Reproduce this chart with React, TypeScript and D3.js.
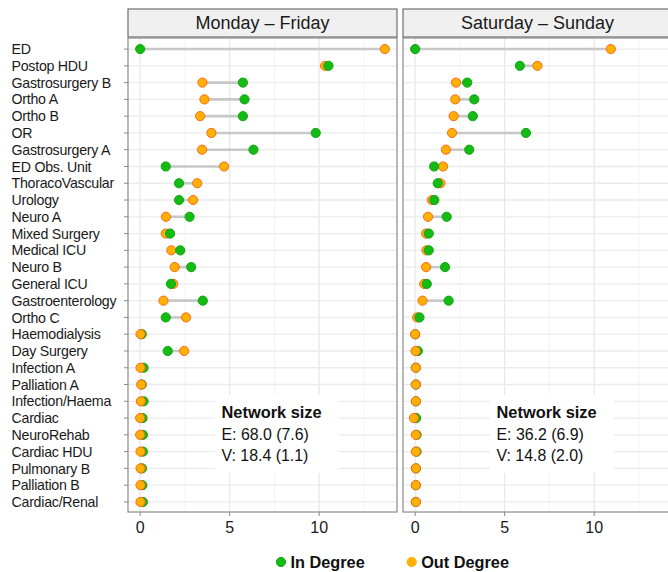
import React, { useEffect, useRef } from "react";
import * as d3 from "d3";

const wards = [
  "ED", "Postop HDU", "Gastrosurgery B", "Ortho A", "Ortho B", "OR",
  "Gastrosurgery A", "ED Obs. Unit", "ThoracoVascular", "Urology", "Neuro A",
  "Mixed Surgery", "Medical ICU", "Neuro B", "General ICU", "Gastroenterology",
  "Ortho C", "Haemodialysis", "Day Surgery", "Infection A", "Palliation A",
  "Infection/Haema", "Cardiac", "NeuroRehab", "Cardiac HDU", "Pulmonary B",
  "Palliation B", "Cardiac/Renal",
];

const facets = ["Monday – Friday", "Saturday – Sunday"];

// weekday
const inWeek = [0, 10.52, 5.74, 5.83, 5.74, 9.81, 6.33, 1.43, 2.17, 2.17, 2.76, 1.67, 2.24, 2.85, 1.72, 3.5, 1.43, 0.09, 1.54, 0.19, 0.09, 0.19, 0.13, 0.15, 0.15, 0.1, 0.12, 0.15];
const outWeek = [13.67, 10.33, 3.48, 3.59, 3.35, 3.98, 3.46, 4.69, 3.19, 2.96, 1.44, 1.43, 1.74, 1.93, 1.85, 1.3, 2.56, 0.02, 2.46, 0.02, 0.06, 0.04, 0, 0, 0.02, 0.02, 0.02, 0.02];
// weekend
const inWkend = [0, 5.85, 2.91, 3.3, 3.22, 6.19, 3.02, 1.06, 1.26, 1.07, 1.76, 0.76, 0.76, 1.67, 0.65, 1.87, 0.24, 0, 0.15, 0.04, 0.04, 0.04, 0.05, 0.08, 0.08, 0.04, 0.04, 0.04];
const outWkend = [10.93, 6.83, 2.28, 2.24, 2.15, 2.06, 1.72, 1.56, 1.41, 0.93, 0.72, 0.61, 0.63, 0.61, 0.5, 0.41, 0.11, 0, 0.02, 0.04, 0.04, 0.04, -0.07, 0.04, 0.04, 0.04, 0.04, 0.04];

const netSize = [
  ["E: 68.0 (7.6)", "V: 18.4 (1.1)"],
  ["E: 36.2 (6.9)", "V: 14.8 (2.0)"],
];

const xTicks = [0, 5, 10];
const xMinor = [2.5, 7.5, 12.5];

const GREEN = "#14bb14";
const GREEN_EDGE = "#0fa50f";
const ORANGE = "#ffb000";
const ORANGE_EDGE = "#ff6a1f";
const FONT = "'Liberation Sans', Arial, Helvetica, sans-serif";

export default function App() {
  const ref = useRef<SVGSVGElement>(null);

  useEffect(() => {
    const svg = d3.select(ref.current);
    svg.selectAll("*").remove();

    const panelTop = 38, panelBottom = 512, panelW = 269;
    const panelLefts = [128, 403];
    const series = [
      { inD: inWeek, outD: outWeek },
      { inD: inWkend, outD: outWkend },
    ];

    const y = d3.scalePoint<string>()
      .domain(wards)
      .range([panelTop + 1, panelBottom])
      .padding(0.6);

    // y labels
    svg.append("g")
      .selectAll("text")
      .data(wards)
      .join("text")
      .attr("x", 11.5)
      .attr("y", d => y(d)!)
      .attr("dy", "0.36em")
      .style("font-family", FONT)
      .style("font-size", "14.2px")
      .style("letter-spacing", "-0.25px")
      .attr("fill", "#1a1a1a")
      .text(d => d);

    facets.forEach((title, fi) => {
      const left = panelLefts[fi];
      const x = d3.scaleLinear().domain([-0.68, 14.35]).range([left, left + panelW]);
      const g = svg.append("g");

      // strip
      g.append("rect")
        .attr("x", left).attr("y", 9)
        .attr("width", panelW).attr("height", 28)
        .attr("fill", "#f0f0f0")
        .attr("stroke", "#6e6e6e").attr("stroke-width", 1.2);
      g.append("text")
        .attr("x", left + panelW / 2).attr("y", 23)
        .attr("dy", "0.36em")
        .attr("text-anchor", "middle")
        .style("font-family", FONT)
        .style("font-size", "18px")
        .attr("fill", "#1a1a1a")
        .text(title);

      // panel bg
      g.append("rect")
        .attr("x", left).attr("y", panelTop)
        .attr("width", panelW).attr("height", panelBottom - panelTop)
        .attr("fill", "white");

      // grid
      g.selectAll(".minor")
        .data(xMinor)
        .join("line")
        .attr("x1", d => x(d)).attr("x2", d => x(d))
        .attr("y1", panelTop).attr("y2", panelBottom)
        .attr("stroke", "#f3f3f3").attr("stroke-width", 1);
      g.selectAll(".majx")
        .data(xTicks)
        .join("line")
        .attr("x1", d => x(d)).attr("x2", d => x(d))
        .attr("y1", panelTop).attr("y2", panelBottom)
        .attr("stroke", "#e8e8e8").attr("stroke-width", 1.3);
      g.selectAll(".majy")
        .data(wards)
        .join("line")
        .attr("x1", left).attr("x2", left + panelW)
        .attr("y1", d => y(d)!).attr("y2", d => y(d)!)
        .attr("stroke", "#ebebeb").attr("stroke-width", 1.3);

      // annotation box
      g.append("rect")
        .attr("x", x(4.18)).attr("y", 395)
        .attr("width", x(11.1) - x(4.18)).attr("height", 78)
        .attr("fill", "white");
      const tx = x(4.18) + 6.5;
      g.append("text")
        .attr("x", tx).attr("y", 418)
        .style("font-family", FONT).style("font-size", "16.4px")
        .style("font-weight", "bold").attr("fill", "#111")
        .text("Network size");
      netSize[fi].forEach((line, li) => {
        g.append("text")
          .attr("x", tx).attr("y", 440 + li * 20.5)
          .style("font-family", FONT).style("font-size", "15.9px")
          .attr("fill", "#111")
          .text(line);
      });

      const { inD, outD } = series[fi];

      // segments
      g.selectAll(".seg")
        .data(wards)
        .join("line")
        .attr("x1", (d, i) => x(inD[i])).attr("x2", (d, i) => x(outD[i]))
        .attr("y1", d => y(d)!).attr("y2", d => y(d)!)
        .attr("stroke", "#c8c8c8").attr("stroke-width", 2.6);

      // points
      const outOnTop = (i: number) => i >= 17;
      wards.forEach((w, i) => {
        const pIn = { v: inD[i], fill: GREEN, stroke: GREEN_EDGE };
        const pOut = { v: outD[i], fill: ORANGE, stroke: ORANGE_EDGE };
        const order = outOnTop(i) ? [pIn, pOut] : [pOut, pIn];
        order.forEach(p => {
          g.append("circle")
            .attr("cx", x(p.v)).attr("cy", y(w)!)
            .attr("r", 4.6)
            .attr("fill", p.fill)
            .attr("stroke", p.stroke).attr("stroke-width", 1);
        });
      });

      // panel border
      g.append("rect")
        .attr("x", left).attr("y", panelTop)
        .attr("width", panelW).attr("height", panelBottom - panelTop)
        .attr("fill", "none")
        .attr("stroke", "#8a8a8a").attr("stroke-width", 1.2);

      // y ticks
      if (fi === 0) {
        g.selectAll(".yt")
          .data(wards)
          .join("line")
          .attr("x1", left - 4).attr("x2", left)
          .attr("y1", d => y(d)!).attr("y2", d => y(d)!)
          .attr("stroke", "#8a8a8a");
      }

      // x axis
      g.selectAll(".xt")
        .data(xTicks)
        .join("line")
        .attr("x1", d => x(d)).attr("x2", d => x(d))
        .attr("y1", panelBottom).attr("y2", panelBottom + 4)
        .attr("stroke", "#8a8a8a");
      g.selectAll(".xl")
        .data(xTicks)
        .join("text")
        .attr("x", d => x(d)).attr("y", 527)
        .attr("dy", "0.36em")
        .attr("text-anchor", "middle")
        .style("font-family", FONT).style("font-size", "16px")
        .attr("fill", "#1a1a1a")
        .text(d => d);
    });

    // legend
    const legend = [
      { label: "In Degree", fill: GREEN, stroke: GREEN_EDGE, x: 281 },
      { label: "Out Degree", fill: ORANGE, stroke: ORANGE, x: 411.7 },
    ];
    legend.forEach(l => {
      svg.append("circle")
        .attr("cx", l.x).attr("cy", 562).attr("r", 4.6)
        .attr("fill", l.fill).attr("stroke", l.stroke);
      svg.append("text")
        .attr("x", l.x + 9.5).attr("y", 562)
        .attr("dy", "0.36em")
        .style("font-family", FONT).style("font-size", "16.3px")
        .style("font-weight", "bold").attr("fill", "#111")
        .text(l.label);
    });
  }, []);

  return (
    <svg
      ref={ref}
      width={668}
      height={572}
      style={{ position: "absolute", left: 0, top: 0, background: "white" }}
    />
  );
}
